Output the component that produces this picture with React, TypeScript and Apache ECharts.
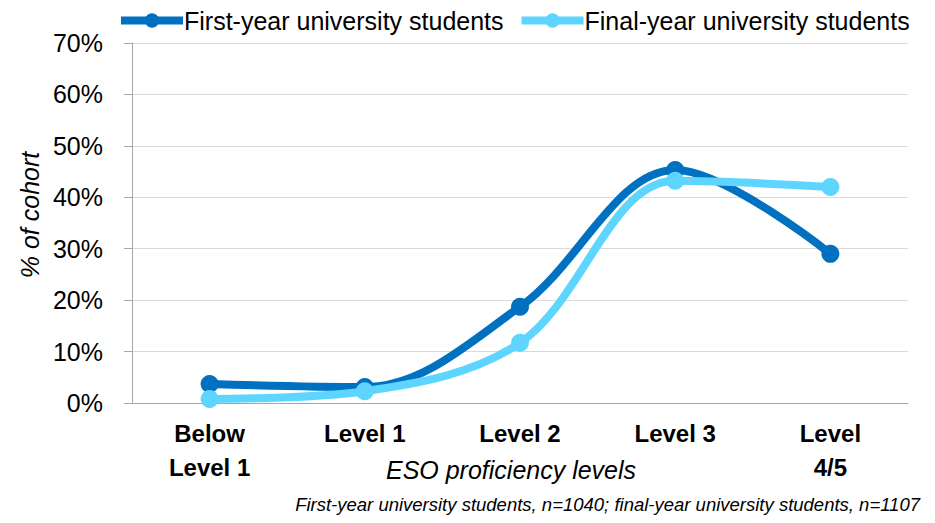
import React, { useEffect, useRef } from "react";
import * as echarts from "echarts";

const categories = ["Below\nLevel 1", "Level 1", "Level 2", "Level 3", "Level\n4/5"];
const firstYear = [3.7, 3.1, 18.7, 45.3, 29.0];
const finalYear = [0.8, 2.3, 11.7, 43.2, 42.0];
const seriesNames = ["First-year university students", "Final-year university students"];
const yTicks = [0, 10, 20, 30, 40, 50, 60, 70];
const footnote = "First-year university students, n=1040; final-year university students, n=1107";
const xAxisTitle = "ESO proficiency levels";
const yAxisTitle = "% of cohort";

const FONT = "'Liberation Sans', Arial, sans-serif";

export default function App() {
  const ref = useRef<HTMLDivElement>(null);
  useEffect(() => {
    if (!ref.current) return;
    const chart = echarts.init(ref.current, undefined, { renderer: "svg" });
    chart.setOption({
      animation: false,
      textStyle: { fontFamily: FONT },
      legend: {
        top: 3,
        left: 112,
        itemWidth: 62,
        itemHeight: 18,
        itemGap: 14,
        lineStyle: { width: 8 },
        textStyle: { fontSize: 25, color: "#000", fontFamily: FONT, padding: [0, 0, 0, -4] },
        data: seriesNames,
      },
      grid: { left: 132, right: 27, top: 43, bottom: 120 },
      xAxis: {
        type: "category",
        data: categories,
        boundaryGap: true,
        axisLine: { lineStyle: { color: "#A6A6A6", width: 1 } },
        axisTick: { show: false },
        axisLabel: { fontSize: 24, fontWeight: "bold", color: "#000", margin: 13, lineHeight: 34, fontFamily: FONT },
      },
      yAxis: {
        type: "value",
        min: 0,
        max: 70,
        interval: 10,
        axisLine: { show: true, lineStyle: { color: "#A6A6A6" } },
        axisTick: { show: true, length: 8, lineStyle: { color: "#A6A6A6" } },
        splitLine: { lineStyle: { color: "#D9D9D9", width: 1 } },
        axisLabel: {
          fontSize: 25,
          color: "#000",
          margin: 29,
          fontFamily: FONT,
          formatter: (v: number) => (yTicks.includes(v) ? v + "%" : ""),
        },
      },
      series: [
        {
          name: seriesNames[0],
          type: "line",
          smooth: 0.35,
          data: firstYear,
          symbol: "circle",
          symbolSize: 18,
          lineStyle: { width: 8, color: "#0070C0" },
          itemStyle: { color: "#0070C0" },
          z: 3,
        },
        {
          name: seriesNames[1],
          type: "line",
          smooth: 0.35,
          data: finalYear,
          symbol: "circle",
          symbolSize: 18,
          lineStyle: { width: 8, color: "#5DD5FF" },
          itemStyle: { color: "#5DD5FF" },
          z: 4,
        },
      ],
      graphic: [
        {
          type: "text",
          x: 511,
          y: 470,
          style: {
            text: xAxisTitle,
            fontSize: 25,
            fontStyle: "italic",
            fill: "#000",
            fontFamily: FONT,
            align: "center",
            verticalAlign: "middle",
          },
        },
        {
          type: "text",
          x: 30,
          y: 215,
          rotation: Math.PI / 2,
          style: {
            text: yAxisTitle,
            fontSize: 25,
            fontStyle: "italic",
            fill: "#000",
            fontFamily: FONT,
            align: "center",
            verticalAlign: "middle",
          },
        },
        {
          type: "text",
          x: 920,
          y: 504,
          style: {
            text: footnote,
            fontSize: 18.5,
            fontStyle: "italic",
            fill: "#000",
            fontFamily: FONT,
            align: "right",
            verticalAlign: "middle",
          },
        },
      ],
    });
    return () => chart.dispose();
  }, []);
  return <div ref={ref} style={{ width: 935, height: 523, margin: -8 }} />;
}
